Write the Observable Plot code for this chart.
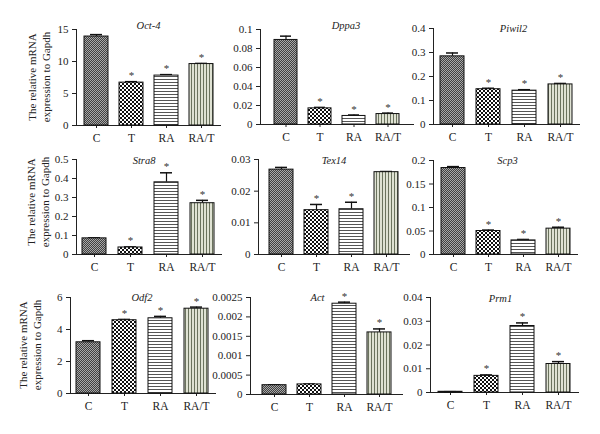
<!DOCTYPE html>
<html>
<head>
<meta charset="utf-8">
<script src="https://cdn.jsdelivr.net/npm/d3@7"></script>
<script src="https://cdn.jsdelivr.net/npm/@observablehq/plot@0.6"></script>
<style>
  html, body { margin: 0; padding: 0; background: #fff; }
  #root { position: relative; width: 600px; height: 434px; overflow: hidden; background: #fff; font-family: "Liberation Serif", "Times New Roman", serif; color: #222; }
  .panel { position: absolute; }
  .ylab { position: absolute; width: 130px; height: 28px; line-height: 13.5px; font-size: 11px; text-align: center; transform: rotate(-90deg); transform-origin: 50% 50%; white-space: nowrap; color: #222; }
</style>
</head>
<body>
<div id="root">
<svg width="0" height="0" style="position:absolute">
  <defs>
    <pattern id="patC" width="2" height="2" patternUnits="userSpaceOnUse">
      <rect width="2" height="2" fill="#a8a8a8"/>
      <rect x="0" y="0" width="1" height="1" fill="#404040"/>
      <rect x="1" y="1" width="1" height="1" fill="#404040"/>
    </pattern>
    <pattern id="patT" width="4" height="4" patternUnits="userSpaceOnUse">
      <rect width="4" height="4" fill="#ffffff"/>
      <rect x="0" y="0" width="2" height="2" fill="#111"/>
      <rect x="2" y="2" width="2" height="2" fill="#111"/>
    </pattern>
    <pattern id="patRA" width="3" height="3" patternUnits="userSpaceOnUse">
      <rect width="3" height="3" fill="#ffffff"/>
      <rect x="0" y="0" width="3" height="1" fill="#555"/>
    </pattern>
    <pattern id="patRAT" width="3" height="3" patternUnits="userSpaceOnUse">
      <rect width="3" height="3" fill="#dfe2d3"/>
      <rect x="0" y="0" width="1" height="3" fill="#6b735e"/>
    </pattern>
  </defs>
</svg>
</div>
<script>
// ---------- data ----------
const categories = ["C", "T", "RA", "RA/T"];
const genes = ["Oct-4", "Dppa3", "Piwil2", "Stra8", "Tex14", "Scp3", "Odf2", "Act", "Prm1"];

const oct4Mean   = [13.9, 6.7, 7.8, 9.6];
const oct4Err    = [0.3, 0.15, 0.15, 0.1];
const oct4Sig    = [false, true, true, true];
const oct4Ticks  = [0, 5, 10, 15];

const dppa3Mean  = [0.089, 0.017, 0.009, 0.011];
const dppa3Err   = [0.004, 0.001, 0.001, 0.001];
const dppa3Sig   = [false, true, true, true];
const dppa3Ticks = [0, 0.02, 0.04, 0.06, 0.08, 0.1];

const piwil2Mean  = [0.284, 0.147, 0.141, 0.167];
const piwil2Err   = [0.014, 0.004, 0.004, 0.004];
const piwil2Sig   = [false, true, true, true];
const piwil2Ticks = [0, 0.1, 0.2, 0.3, 0.4];

const stra8Mean  = [0.085, 0.037, 0.38, 0.27];
const stra8Err   = [0.003, 0.003, 0.05, 0.015];
const stra8Sig   = [false, true, true, true];
const stra8Ticks = [0, 0.1, 0.2, 0.3, 0.4, 0.5];

const tex14Mean  = [0.0268, 0.014, 0.0143, 0.026];
const tex14Err   = [0.0007, 0.0018, 0.0022, 0.0002];
const tex14Sig   = [false, true, true, false];
const tex14Ticks = [0, 0.01, 0.02, 0.03];

const scp3Mean  = [0.184, 0.05, 0.03, 0.055];
const scp3Err   = [0.003, 0.002, 0.002, 0.003];
const scp3Sig   = [false, true, true, true];
const scp3Ticks = [0, 0.05, 0.1, 0.15, 0.2];

const odf2Mean  = [3.2, 4.58, 4.7, 5.3];
const odf2Err   = [0.1, 0.05, 0.12, 0.1];
const odf2Sig   = [false, true, true, true];
const odf2Ticks = [0, 2, 4, 6];

const actMean  = [0.00024, 0.00026, 0.00234, 0.0016];
const actErr   = [0.00001, 0.00001, 0.00004, 0.00009];
const actSig   = [false, false, true, true];
const actTicks = [0, 0.0005, 0.001, 0.0015, 0.002, 0.0025];

const prm1Mean  = [0.0003, 0.007, 0.028, 0.012];
const prm1Err   = [0.00005, 0.0004, 0.0013, 0.001];
const prm1Sig   = [false, true, true, true];
const prm1Ticks = [0, 0.01, 0.02, 0.03, 0.04];

const yLabelLines = ["The relative mRNA", "expression to Gapdh"];

// ---------- layout ----------
const FONT = "'Liberation Serif', 'Times New Roman', serif";
const fills = {"C": "url(#patC)", "T": "url(#patT)", "RA": "url(#patRA)", "RA/T": "url(#patRAT)"};
const panels = [
  {gene: genes[0], mean: oct4Mean,  err: oct4Err,  sig: oct4Sig,  ticks: oct4Ticks,  left: 76,  right: 220, top: 29,  bottom: 125, po: 0.17, tdx: 0,  tdy: -4},
  {gene: genes[1], mean: dppa3Mean, err: dppa3Err, sig: dppa3Sig, ticks: dppa3Ticks, left: 260, right: 413, top: 29,  bottom: 124, po: 0.37, tdx: 9,  tdy: -4},
  {gene: genes[2], mean: piwil2Mean,err: piwil2Err,sig: piwil2Sig,ticks: piwil2Ticks,left: 433, right: 579, top: 28,  bottom: 124, po: 0.17, tdx: 7,  tdy: 0},
  {gene: genes[3], mean: stra8Mean, err: stra8Err, sig: stra8Sig, ticks: stra8Ticks, left: 76,  right: 221, top: 159, bottom: 254, po: 0.17, tdx: -5, tdy: 1},
  {gene: genes[4], mean: tex14Mean, err: tex14Err, sig: tex14Sig, ticks: tex14Ticks, left: 258, right: 409, top: 159, bottom: 254, po: 0.28, tdx: 0,  tdy: 1},
  {gene: genes[5], mean: scp3Mean,  err: scp3Err,  sig: scp3Sig,  ticks: scp3Ticks,  left: 433, right: 577, top: 160, bottom: 254, po: 0.17, tdx: 2,  tdy: 0},
  {gene: genes[6], mean: odf2Mean,  err: odf2Err,  sig: odf2Sig,  ticks: odf2Ticks,  left: 70,  right: 215, top: 297, bottom: 393, po: 0.17, tdx: -1, tdy: 0},
  {gene: genes[7], mean: actMean,   err: actErr,   sig: actSig,   ticks: actTicks,   left: 250, right: 402, top: 297, bottom: 394, po: 0.28, tdx: -9, tdy: 0},
  {gene: genes[8], mean: prm1Mean,  err: prm1Err,  sig: prm1Sig,  ticks: prm1Ticks,  left: 430, right: 578, top: 297, bottom: 392, po: 0.19, tdx: -4, tdy: 1}
];
const yLabelPos = [{cx: 40, cy: 77}, {cx: 39, cy: 202}, {cx: 31, cy: 345}];

const root = document.getElementById("root");
const mL = 50, mR = 6, mT = 22, mB = 26;

for (const p of panels) {
  const rows = categories.map((c, i) => ({cat: c, v: p.mean[i], e: p.err[i], top: p.mean[i] + p.err[i], sig: p.sig[i]}));
  const fw = p.right - p.left, fh = p.bottom - p.top;
  const chart = Plot.plot({
    width: mL + fw + mR,
    height: mT + fh + mB,
    marginLeft: mL, marginRight: mR, marginTop: mT, marginBottom: mB,
    style: {fontFamily: FONT, fontSize: "11px", color: "#222", background: "transparent", overflow: "visible"},
    x: {domain: categories, paddingInner: 0.32, paddingOuter: p.po, tickSize: 3, tickPadding: 5, line: true, label: null},
    y: {domain: [p.ticks[0], p.ticks[p.ticks.length - 1]], ticks: p.ticks, tickFormat: d => String(d), tickSize: 4, tickPadding: 4, line: true, label: null},
    marks: [
      Plot.ruleX(rows, {x: "cat", y1: "v", y2: "top", stroke: "#111", strokeWidth: 1.2}),
      Plot.tickY(rows, {x: "cat", y: "top", stroke: "#111", strokeWidth: 1.5, insetLeft: 6, insetRight: 6}),
      Plot.barY(rows, {x: "cat", y: "v", fill: d => fills[d.cat], stroke: "#111", strokeWidth: 1}),
      Plot.text(rows.filter(d => d.sig), {x: "cat", y: "top", text: () => "*", dy: -6, fontSize: 11, fill: "#333"}),
      Plot.text([p.gene], {frameAnchor: "top", lineAnchor: "middle", text: d => d, dx: p.tdx, dy: p.tdy, fontStyle: "italic", fontSize: 10.5, fill: "#222"})
    ]
  });
  chart.classList.add("panel");
  chart.style.left = (p.left - mL) + "px";
  chart.style.top = (p.top - mT) + "px";
  chart.querySelectorAll("[aria-label='x-axis tick label'] text").forEach(t => t.setAttribute("font-size", "11.5"));
  root.appendChild(chart);
}

for (const pos of yLabelPos) {
  const div = document.createElement("div");
  div.className = "ylab";
  div.innerHTML = yLabelLines.map(s => `<div>${s}</div>`).join("");
  div.style.left = (pos.cx - 65) + "px";
  div.style.top = (pos.cy - 14) + "px";
  root.appendChild(div);
}
</script>
</body>
</html>
